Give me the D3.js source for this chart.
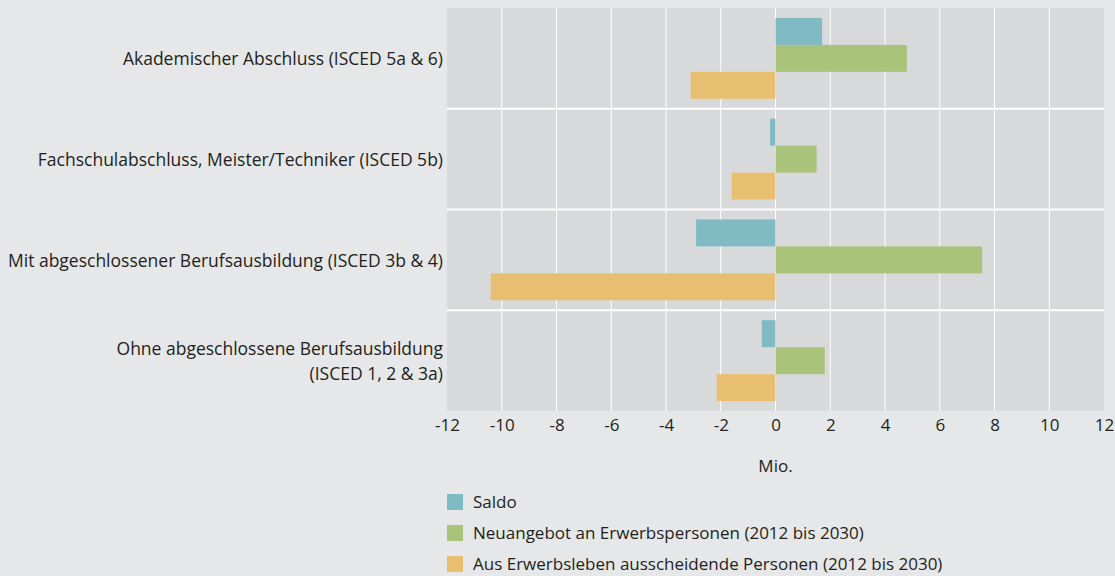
<!DOCTYPE html>
<html>
<head>
<meta charset="utf-8">
<script src="https://cdn.jsdelivr.net/npm/d3@7"></script>
<style>
  body { margin: 0; background: #e6e7e9; }
  text { font-family: "Open Sans", sans-serif; fill: #231f20; }
</style>
</head>
<body>
<script>
// categories (top to bottom), label lines
var categories = [
  ["Akademischer Abschluss (ISCED 5a & 6)"],
  ["Fachschulabschluss, Meister/Techniker (ISCED 5b)"],
  ["Mit abgeschlossener Berufsausbildung (ISCED 3b & 4)"],
  ["Ohne abgeschlossene Berufsausbildung", "(ISCED 1, 2 & 3a)"]
];
var seriesNames = ["Saldo", "Neuangebot an Erwerbspersonen (2012 bis 2030)", "Aus Erwerbsleben ausscheidende Personen (2012 bis 2030)"];
var seriesColors = ["#80bbc4", "#aac37b", "#e8bf70"];
// values in Mio.
var saldo = [1.7, -0.2, -2.9, -0.5];
var neuangebot = [4.8, 1.5, 7.55, 1.8];
var ausscheidend = [-3.1, -1.6, -10.4, -2.15];
var xTicks = [-12, -10, -8, -6, -4, -2, 0, 2, 4, 6, 8, 10, 12];

var width = 1115, height = 576;
var plotLeft = 447, plotRight = 1104, plotTop = 8, plotBottom = 411;

var svg = d3.select("body").append("svg")
    .attr("width", width)
    .attr("height", height);

var x = d3.scaleLinear().domain([-12, 12]).range([plotLeft, plotRight]);
var y = d3.scaleBand().domain(d3.range(categories.length)).range([plotTop, plotBottom]);
var inner = d3.scaleBand().domain(d3.range(3)).range([0, y.bandwidth()]).paddingOuter(0.37);

svg.append("rect")
    .attr("x", plotLeft).attr("y", plotTop)
    .attr("width", plotRight - plotLeft).attr("height", plotBottom - plotTop)
    .attr("fill", "#d8d9db");

// vertical grid
svg.append("g").selectAll("line")
    .data(xTicks.slice(1, -1))
    .enter().append("line")
    .attr("x1", function(d){ return x(d); })
    .attr("x2", function(d){ return x(d); })
    .attr("y1", plotTop).attr("y2", plotBottom)
    .attr("stroke", "#ffffff").attr("stroke-width", 1);

// band separators
svg.append("g").selectAll("line")
    .data(d3.range(1, categories.length))
    .enter().append("line")
    .attr("x1", plotLeft).attr("x2", plotRight)
    .attr("y1", function(d){ return y(d); })
    .attr("y2", function(d){ return y(d); })
    .attr("stroke", "#ffffff").attr("stroke-width", 2);

var series = [saldo, neuangebot, ausscheidend];
series.forEach(function(vals, s){
  svg.append("g").selectAll("rect")
      .data(vals)
      .enter().append("rect")
      .attr("x", function(d){ return x(Math.min(0, d)); })
      .attr("width", function(d){ return Math.abs(x(d) - x(0)); })
      .attr("y", function(d, i){ return y(i) + inner(s); })
      .attr("height", inner.bandwidth())
      .attr("fill", seriesColors[s]);
});

// category labels
categories.forEach(function(lines, i){
  var cy = y(i) + y.bandwidth() / 2;
  var t = svg.append("text")
      .attr("text-anchor", "end")
      .attr("font-size", 17.5);
  lines.forEach(function(l, k){
    t.append("tspan")
        .attr("x", plotLeft - 4)
        .attr("y", cy + 7 + (k - (lines.length - 1) / 2) * 25)
        .text(l);
  });
});

// x axis
var axis = svg.append("g")
    .attr("transform", "translate(0," + plotBottom + ")")
    .call(d3.axisBottom(x).tickValues(xTicks).tickSize(0).tickPadding(8)
      .tickFormat(function(d){ return String(d); }));
axis.select(".domain").remove();
axis.selectAll("text")
    .attr("font-size", 17)
    .style("font-family", "'Open Sans', sans-serif")
    .attr("fill", "#231f20");

svg.append("text")
    .attr("x", x(0)).attr("y", 472)
    .attr("text-anchor", "middle")
    .attr("font-size", 17)
    .text("Mio.");

// legend
var legend = svg.append("g").selectAll("g")
    .data(seriesNames)
    .enter().append("g")
    .attr("transform", function(d, i){ return "translate(447," + (494 + i * 31) + ")"; });
legend.append("rect")
    .attr("width", 16).attr("height", 16)
    .attr("fill", function(d, i){ return seriesColors[i]; });
legend.append("text")
    .attr("x", 26).attr("y", 14)
    .attr("font-size", 17)
    .text(function(d){ return d; });
</script>
</body>
</html>
